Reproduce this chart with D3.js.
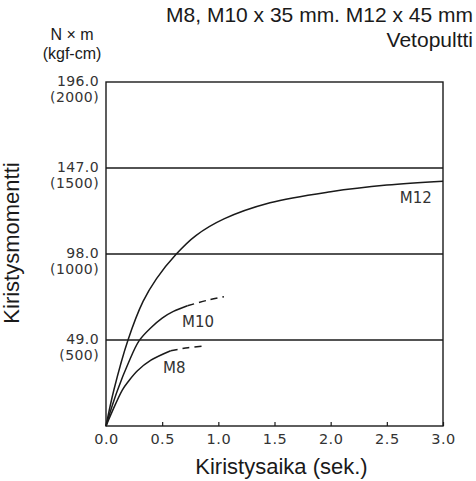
<!DOCTYPE html>
<html>
<head>
<meta charset="utf-8">
<script src="https://cdn.jsdelivr.net/npm/d3@7"></script>
<style>
  html, body { margin: 0; padding: 0; background: #fff; }
  svg { display: block; font-family: "Liberation Sans", Arial, sans-serif; }
</style>
</head>
<body>
<div id="chart"></div>
<script>
// tick values (N x m) and their kgf-cm equivalents
const yTicks = [49, 98, 147, 196];
const yTickSub = ["(500)", "(1000)", "(1500)", "(2000)"];
const yTickMain = ["49.0", "98.0", "147.0", "196.0"];
const xTicks = [0, 0.5, 1.0, 1.5, 2.0, 2.5, 3.0];

// curves: [time, torque]
const m12Solid = [[0, 0], [0.07, 20.5], [0.196, 49], [0.33, 71], [0.45, 84], [0.626, 98], [0.8, 108.5],
  [1.05, 118], [1.46, 127.2], [2.0, 133.5], [2.5, 137.3], [3.0, 139.5]];
const m10Solid = [[0, 0], [0.05, 10.5], [0.1, 20], [0.2, 36], [0.294, 48.5], [0.4, 56], [0.5, 61.5],
  [0.6, 65.3], [0.725, 68.5]];
const m10Dash = [[0.725, 68.5], [0.9, 71.6], [1.05, 73.7]];
const m8Solid = [[0, 0], [0.05, 7.5], [0.145, 20.5], [0.2, 25.5], [0.28, 31.5], [0.4, 37.5], [0.576, 42.9]];
const m8Dash = [[0.576, 42.9], [0.73, 44.6], [0.873, 45.6]];

const curveLabels = [
  { text: "M12", t: 2.9, v: 127, anchor: "end" },
  { text: "M10", t: 0.677, v: 56.6, anchor: "start" },
  { text: "M8", t: 0.508, v: 30.2, anchor: "start" }
];

const width = 476, height = 481;
const margin = { top: 82, right: 33, bottom: 55, left: 106 };
const innerW = width - margin.left - margin.right;
const innerH = height - margin.top - margin.bottom;
const ink = "#1a1a1a";

const svg = d3.select("#chart").append("svg")
  .attr("width", width)
  .attr("height", height);

const g = svg.append("g")
  .attr("transform", `translate(${margin.left},${margin.top})`);

const x = d3.scaleLinear().domain([0, 3]).range([0, innerW]);
const y = d3.scaleLinear().domain([0, 196]).range([innerH, 0]);

// horizontal grid lines
g.append("g")
  .selectAll("line")
  .data(yTicks.slice(0, 3))
  .join("line")
  .attr("x1", 0)
  .attr("x2", innerW)
  .attr("y1", d => y(d))
  .attr("y2", d => y(d))
  .attr("stroke", ink)
  .attr("stroke-width", 1.4);

// frame
g.append("rect")
  .attr("width", innerW)
  .attr("height", innerH)
  .attr("fill", "none")
  .attr("stroke", ink)
  .attr("stroke-width", 1.4);

// x axis with inward ticks
const xAxis = g.append("g")
  .attr("transform", `translate(0,${innerH})`)
  .call(d3.axisBottom(x).tickValues(xTicks).tickFormat(d3.format(".1f")).tickSizeInner(-4).tickSizeOuter(0).tickPadding(8))
  .call(a => a.select(".domain").remove());
xAxis.selectAll("line").attr("stroke", ink).attr("stroke-width", 1.2);
xAxis.selectAll("text")
  .attr("font-size", 14.5)
  .attr("fill", "#333")
  .attr("font-family", "'DejaVu Sans', sans-serif")
  .style("letter-spacing", "0.5px");

// y tick labels (two lines)
const yl = g.append("g")
  .selectAll("text")
  .data(yTicks)
  .join("text")
  .attr("x", -7)
  .attr("y", d => y(d))
  .attr("text-anchor", "end")
  .attr("font-size", 14)
  .attr("fill", "#333")
  .attr("font-family", "'DejaVu Sans', sans-serif")
  .style("letter-spacing", "0.4px");
yl.append("tspan").attr("x", -7).attr("dy", "0.3em").text((d, i) => yTickMain[i]);
yl.append("tspan").attr("x", -7).attr("dy", "1.15em").text((d, i) => yTickSub[i]);

// curves
const line = d3.line().x(d => x(d[0])).y(d => y(d[1])).curve(d3.curveCatmullRom.alpha(0.5));
[m12Solid, m10Solid, m8Solid].forEach(s => {
  g.append("path").attr("d", line(s)).attr("fill", "none")
    .attr("stroke", ink).attr("stroke-width", 1.5);
});
[m10Dash, m8Dash].forEach(s => {
  g.append("path").attr("d", line(s)).attr("fill", "none")
    .attr("stroke", ink).attr("stroke-width", 1.5)
    .attr("stroke-dasharray", "7,5");
});

// curve labels
g.append("g")
  .selectAll("text")
  .data(curveLabels)
  .join("text")
  .attr("x", d => x(d.t))
  .attr("y", d => y(d.v))
  .attr("text-anchor", d => d.anchor)
  .attr("font-size", 15)
  .attr("fill", "#333")
  .attr("font-family", "'DejaVu Sans', sans-serif")
  .text(d => d.text);

// titles
svg.append("text")
  .attr("x", 473).attr("y", 22)
  .attr("text-anchor", "end")
  .attr("font-size", 21)
  .attr("fill", ink)
  .text("M8, M10 x 35 mm. M12 x 45 mm");
svg.append("text")
  .attr("x", 473).attr("y", 47)
  .attr("text-anchor", "end")
  .attr("font-size", 21)
  .attr("fill", ink)
  .text("Vetopultti");

// unit label
svg.append("text")
  .attr("x", 72).attr("y", 40)
  .attr("text-anchor", "middle")
  .attr("font-size", 16)
  .attr("fill", ink)
  .text("N × m");
svg.append("text")
  .attr("x", 72).attr("y", 59)
  .attr("text-anchor", "middle")
  .attr("font-size", 16)
  .attr("fill", ink)
  .text("(kgf-cm)");

// axis titles
svg.append("text")
  .attr("x", margin.left + innerW / 2 + 7)
  .attr("y", 474)
  .attr("text-anchor", "middle")
  .attr("font-size", 22)
  .attr("fill", ink)
  .text("Kiristysaika (sek.)");
svg.append("text")
  .attr("transform", `translate(19,243) rotate(-90)`)
  .attr("text-anchor", "middle")
  .attr("font-size", 22)
  .attr("fill", ink)
  .text("Kiristysmomentti");
</script>
</body>
</html>
